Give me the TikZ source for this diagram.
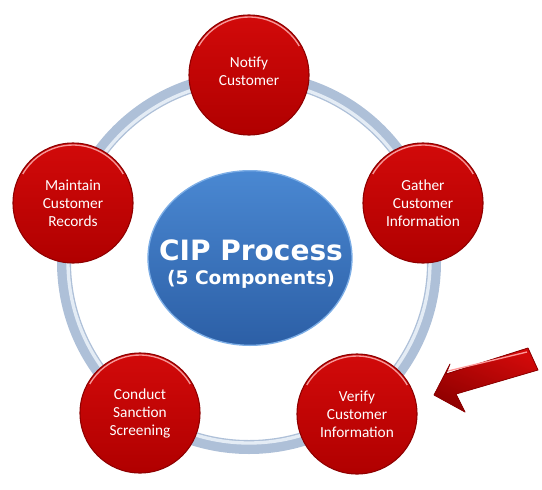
\documentclass[tikz,border=0pt]{standalone}
\usepackage{fontspec}
\setmainfont{Carlito}
\newfontfamily\boldsans{DejaVu Sans}
\usetikzlibrary{shapes.geometric}
\definecolor{redmid}{HTML}{C40000}
\definecolor{redtop}{HTML}{D20A0A}
\definecolor{redbot}{HTML}{B00000}
\definecolor{rededge}{HTML}{8E0000}
\definecolor{ringc}{HTML}{AEC0D8}
\definecolor{ringlight}{HTML}{E4ECF5}
\definecolor{bluetop}{HTML}{4A88D2}
\definecolor{bluebot}{HTML}{2C5FA6}
\definecolor{blueedge}{HTML}{7DAEE6}
\tikzset{
  redball/.style={circle, minimum size=90pt, inner sep=0pt, top color=redtop, bottom color=redbot,
    draw=rededge, line width=0.8pt, text=white, align=center,
    font=\fontsize{11.5pt}{13.5pt}\selectfont},
  balltext/.style={text=white, align=center, inner sep=0pt, font=\fontsize{11.5pt}{13.5pt}\selectfont},
  centre/.style={ellipse, minimum width=153pt, minimum height=131pt, inner sep=0pt,
    top color=bluetop, bottom color=bluebot, draw=blueedge, line width=1pt},
  centretext/.style={text=white, inner sep=0pt, anchor=base, font=\boldsans\bfseries},
}
\begin{document}
\begin{tikzpicture}[x=0.75pt,y=-0.75pt]
\useasboundingbox (0,0) rectangle (542,489);
% ring
\node[circle, minimum size=277.5pt, inner sep=0pt, draw=ringc, line width=10.5pt] (ring) at (249,262) {};
\draw[ringlight, line width=2.5pt] (249,262) circle (181);
% centre
\node[centre] (cip) at (250,258) {};
\node[centretext, font=\boldsans\bfseries\fontsize{21pt}{25pt}\selectfont] (title) at (251,260) {CIP Process};
\node[centretext, font=\boldsans\bfseries\fontsize{14pt}{17pt}\selectfont] (sub) at (251,284) {(5 Components)};
% components
\node[redball] (notify) at (249,75) {};
\node[balltext] (notifytext) at (249,71) {Notify\\Customer};
\node[redball] (gather) at (423,203) {Gather\\Customer\\Information};
\node[redball] (verify) at (357,414) {Verify\\Customer\\Information};
\node[redball] (conduct) at (140,413) {Conduct\\Sanction\\Screening};
\node[redball] (maintain) at (73,203) {Maintain\\Customer\\Records};
% reflections
\foreach \n in {notify,gather,verify,conduct,maintain}{
  \draw[white!75!red, line width=1pt, opacity=0.8] ([shift={(-150:58)}]\n.center) arc (-150:-30:58);
}
% arrow
\coordinate (tip) at (434,395);
\fill[top color=redtop, bottom color=rededge, shading angle=-22]
  (tip) -- (450,364) -- (446,374) -- (528,348) -- (538,370) -- (456,394) -- (465,412) -- cycle;
\draw[rededge, line width=0.6pt, line join=round]
  (tip) -- (450,364) -- (446,374) -- (528,348) -- (538,370) -- (456,394) -- (465,412) -- cycle;
\draw[white!60!red, line width=1pt] (448,371) -- (527,352);
\end{tikzpicture}
\end{document}
